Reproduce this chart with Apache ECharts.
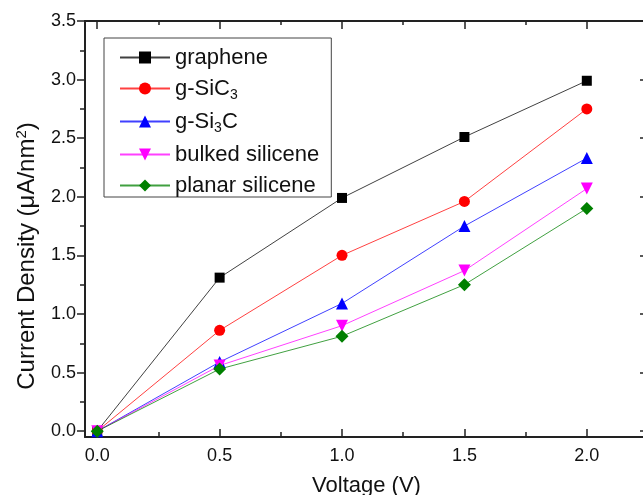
<!DOCTYPE html>
<html>
<head>
<meta charset="utf-8">
<script src="https://cdn.jsdelivr.net/npm/echarts@6/dist/echarts.min.js"></script>
<style>
  html, body { margin: 0; padding: 0; background: #fff; }
  #main { width: 643px; height: 495px; }
</style>
</head>
<body>
<div id="main"></div>
<script>
// data
var voltage = [0, 0.5, 1.0, 1.5, 2.0]
var graphene = [0, 1.31, 1.99, 2.51, 2.99]
var gSiC3 = [0, 0.86, 1.50, 1.96, 2.75]
var gSi3C = [0, 0.59, 1.09, 1.75, 2.33]
var bulked = [0, 0.56, 0.90, 1.37, 2.07]
var planar = [0, 0.53, 0.81, 1.25, 1.90]

var xTicks = [0, 0.5, 1.0, 1.5, 2.0]
var xMinorTicks = [0.25, 0.75, 1.25, 1.75]
var yTicks = [0, 0.5, 1.0, 1.5, 2.0, 2.5, 3.0, 3.5]
var yMinorTicks = [0.25, 0.75, 1.25, 1.75, 2.25, 2.75, 3.25]

var FONT = 'Liberation Sans'
var AXIS_COLOR = '#222'

function pairs(ys) {
  return voltage.map(function (x, i) { return [x, ys[i]] })
}

// one axis layer: ticks at given values, optional line and labels
function axisLayer(base, pos, ticks, len, inside, showLine, showLabel, margin) {
  return Object.assign({
    type: 'value',
    position: pos,
    axisLine: { show: showLine, onZero: false, lineStyle: { color: AXIS_COLOR, width: 2 } },
    axisTick: { show: true, inside: inside, length: len, customValues: ticks,
      lineStyle: { color: AXIS_COLOR, width: 1.5 } },
    axisLabel: { show: showLabel, customValues: ticks, color: '#111', fontFamily: FONT, fontSize: 18,
      margin: margin || 9, formatter: function (v) { return v.toFixed(1) } },
    splitLine: { show: false }
  }, base)
}

var xBase = { min: -0.05, max: 2.25 }
var yBase = { min: -0.05, max: 3.5 }

var chart = echarts.init(document.getElementById('main'))

var xAxes = [
  axisLayer(Object.assign({
    name: 'Voltage (V)', nameLocation: 'middle', nameGap: 38,
    nameTextStyle: { fontFamily: FONT, fontSize: 22, color: '#111' }
  }, xBase), 'bottom', xTicks, 8, true, true, true, 10),
  axisLayer(Object.assign({}, xBase), 'bottom', xMinorTicks, 5, true, false, false),
  axisLayer(Object.assign({}, xBase), 'top', xTicks, 8, true, true, false),
  axisLayer(Object.assign({}, xBase), 'top', xMinorTicks, 4, true, false, false)
]

var yAxes = [
  axisLayer(Object.assign({
    name: 'Current Density (μA/nm{sup|2})', nameLocation: 'middle', nameGap: 45,
    nameTextStyle: { fontFamily: FONT, fontSize: 24, color: '#111', padding: [0, 54, 0, 0],
      rich: { sup: { fontFamily: FONT, fontSize: 15, color: '#111', padding: [0, 0, 11, 0] } } }
  }, yBase), 'left', yTicks, 8, false, true, true, 9),
  axisLayer(Object.assign({}, yBase), 'left', yMinorTicks, 5, false, false, false),
  axisLayer(Object.assign({}, yBase), 'right', yTicks, 8, true, true, false),
  axisLayer(Object.assign({}, yBase), 'right', yMinorTicks, 4, true, false, false)
]

function lineSeries(name, ys, color, symbol, size, rotate) {
  return {
    name: name,
    type: 'line',
    xAxisIndex: 0,
    yAxisIndex: 0,
    data: pairs(ys),
    symbol: symbol,
    symbolSize: size,
    symbolRotate: rotate || 0,
    showAllSymbol: true,
    color: color,
    itemStyle: { color: color },
    lineStyle: { color: color, width: 1, opacity: 0.75 },
    emphasis: { disabled: true },
    animation: false
  }
}

var legendNames = {
  'g-SiC3': 'g-SiC{sub|3}',
  'g-Si3C': 'g-Si{sub|3}C'
}

chart.setOption({
  animation: false,
  grid: { left: 85, right: -5, top: 21, bottom: 58, containLabel: false, outerBoundsMode: 'none' },
  xAxis: xAxes,
  yAxis: yAxes,
  legend: {
    orient: 'vertical',
    left: 104,
    top: 38,
    width: 210,
    padding: [8, 12, 0, 15],
    itemWidth: 50,
    itemHeight: 15,
    itemGap: 8,
    borderColor: '#444',
    borderWidth: 1,
    backgroundColor: '#fff',
    formatter: function (n) { return legendNames[n] || n },
    textStyle: {
      fontFamily: FONT, fontSize: 22, color: '#111', lineHeight: 23,
      rich: { sub: { fontFamily: FONT, fontSize: 14, color: '#111', padding: [13, 0, 0, 0] } }
    },
    data: ['graphene', 'g-SiC3', 'g-Si3C', 'bulked silicene', 'planar silicene']
  },
  series: [
    lineSeries('graphene', graphene, '#000000', 'rect', 10),
    lineSeries('g-SiC3', gSiC3, '#ff0000', 'circle', 11),
    lineSeries('g-Si3C', gSi3C, '#0000ff', 'triangle', 12),
    lineSeries('bulked silicene', bulked, '#ff00ff', 'triangle', 12, 180),
    lineSeries('planar silicene', planar, '#008000', 'diamond', 13)
  ]
})
</script>
</body>
</html>
